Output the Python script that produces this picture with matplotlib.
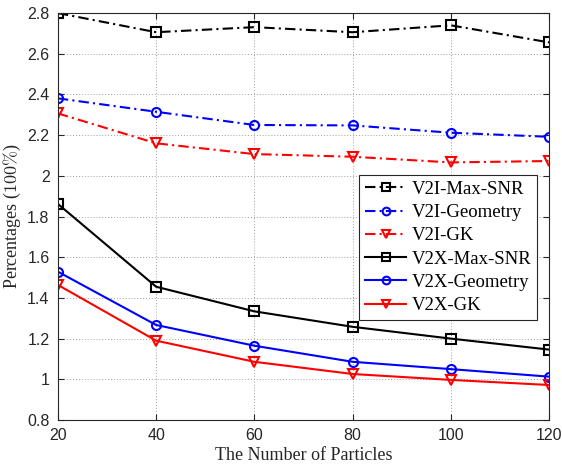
import numpy as np
import matplotlib.pyplot as plt

plt.rcParams['mathtext.fontset'] = 'cm'

particles = [20, 40, 60, 80, 100, 120]

v2i_maxsnr = [2.800, 2.706, 2.731, 2.706, 2.740, 2.656]
v2i_geometry = [2.381, 2.315, 2.250, 2.248, 2.212, 2.192]
v2i_gk = [2.307, 2.160, 2.107, 2.094, 2.066, 2.073]
v2x_maxsnr = [1.862, 1.455, 1.334, 1.258, 1.200, 1.146]
v2x_geometry = [1.529, 1.267, 1.165, 1.086, 1.050, 1.013]
v2x_gk = [1.464, 1.190, 1.086, 1.026, 0.997, 0.972]

dashdot = (0, (5, 2, 1, 2))
series = [
    ('V2I-Max-SNR', v2i_maxsnr, 'k', 's', dashdot),
    ('V2I-Geometry', v2i_geometry, 'b', 'o', dashdot),
    ('V2I-GK', v2i_gk, 'r', 'v', dashdot),
    ('V2X-Max-SNR', v2x_maxsnr, 'k', 's', '-'),
    ('V2X-Geometry', v2x_geometry, 'b', 'o', '-'),
    ('V2X-GK', v2x_gk, 'r', 'v', '-'),
]

fig = plt.figure(figsize=(5.62, 4.68), dpi=100)
ax = fig.add_axes([0.103, 0.1026, 0.874, 0.8694])

for name, vals, c, m, ls in series:
    ax.plot(particles, vals, color=c, marker=m, linestyle=ls, linewidth=1.5,
            markersize=6.5, markerfacecolor='none', markeredgewidth=1.5,
            label=name)

ax.set_xlim(20, 120)
ax.set_ylim(0.8, 2.8)
ax.set_xticks(particles)
ax.set_yticks([0.8, 1, 1.2, 1.4, 1.6, 1.8, 2, 2.2, 2.4, 2.6, 2.8])
ax.set_yticklabels(['0.8', '1', '1.2', '1.4', '1.6', '1.8', '2', '2.2', '2.4', '2.6', '2.8'])
ax.grid(True, linestyle=(0, (1, 2)), color='#a0a0a0', linewidth=0.7)
ax.tick_params(direction='in', top=True, right=True, labelsize=11.5,
               colors='#262626', length=4, pad=6)
for lab in ax.get_xticklabels() + ax.get_yticklabels():
    lab.set_family('Liberation Sans')
for s in ax.spines.values():
    s.set_color('#262626')
    s.set_linewidth(0.8)

ax.set_xlabel('The Number of Particles', family='Liberation Serif', fontsize=13,
              labelpad=3, color='#262626')
ax.set_ylabel(r'Percentages ($100\%$)', family='Liberation Serif', fontsize=13,
              labelpad=3, color='#262626')

leg = ax.legend(loc='upper right', bbox_to_anchor=(0.976, 0.602),
                prop={'family': 'Liberation Serif', 'size': 13.5},
                fancybox=False, edgecolor='#262626', framealpha=1,
                handlelength=2.2, borderpad=0.3, labelspacing=0.33,
                handletextpad=0.3, borderaxespad=0, markerscale=0.85)
leg.get_frame().set_linewidth(0.8)

fig.savefig('out.png', dpi=100)
